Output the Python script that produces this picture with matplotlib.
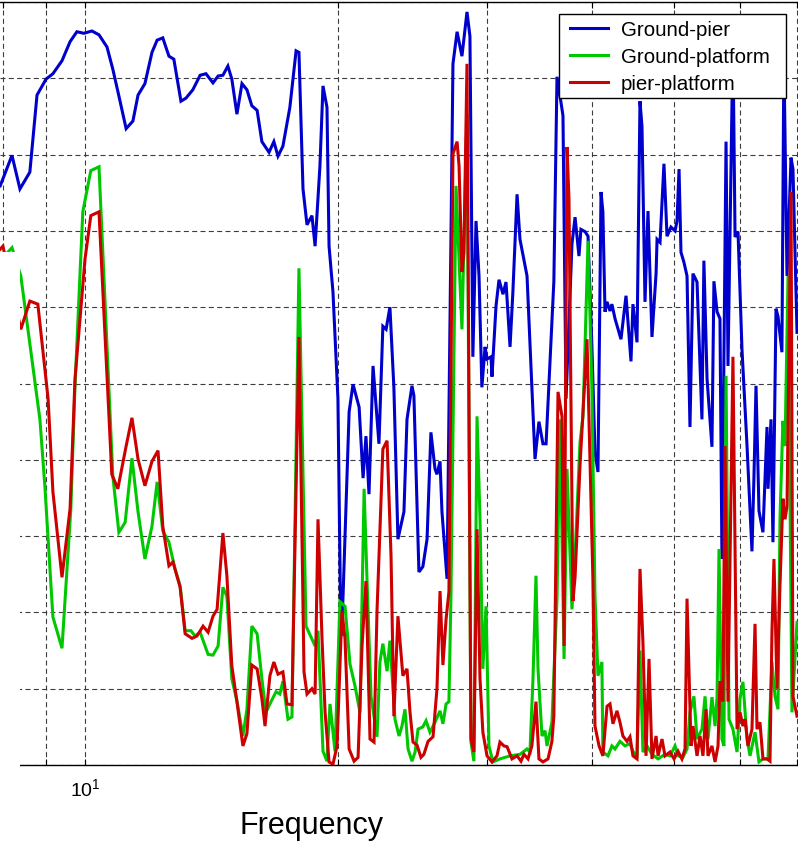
import matplotlib
matplotlib.use('Agg')
import matplotlib.pyplot as plt
from matplotlib.patches import Rectangle
from matplotlib.ticker import NullFormatter

plt.rcParams['font.family'] = ['Liberation Sans', 'DejaVu Sans']
plt.rcParams['mathtext.fontset'] = 'custom'
plt.rcParams['mathtext.rm'] = 'Liberation Sans'
plt.rcParams['mathtext.it'] = 'Liberation Sans:italic'
plt.rcParams['lines.scale_dashes'] = False

series_names = ['Ground-pier', 'Ground-platform', 'pier-platform']
series_colors = ['#0000CC', '#00C800', '#CC0000']

freq_gp = [7.93, 8.19, 8.37, 8.60, 8.77, 8.99, 9.16, 9.39, 9.60, 9.78, 9.97, 10.19, 10.39, 10.62,
           10.79, 10.97, 11.19, 11.40, 11.56, 11.78, 12.01, 12.18, 12.37, 12.58, 12.75, 13.00,
           13.18, 13.43, 13.70, 13.92, 14.19, 14.39, 14.58, 14.78, 14.94, 15.15, 15.36, 15.57,
           15.78, 16.01, 16.22, 16.54, 16.76, 16.95, 17.18, 17.51, 17.81, 17.95, 18.15, 18.35,
           18.60, 18.76, 19.01, 19.17, 19.38, 19.49, 19.70, 19.97, 20.13, 20.24, 20.59, 20.81,
           21.16, 21.39, 21.56, 21.74, 21.98, 22.34, 22.58, 22.78, 23.02, 23.27, 23.53, 23.92,
           24.12, 24.45, 24.58, 24.92, 25.19, 25.48, 25.75, 26.04, 26.18, 26.40, 26.54, 26.91,
           27.35, 27.66, 28.03, 28.42, 28.65, 28.88, 29.13, 29.37, 29.60, 29.86, 30.02, 30.35,
           30.43, 30.77, 31.02, 31.36, 31.62, 31.97, 32.22, 32.59, 32.85, 33.49, 34.23, 34.60,
           34.98, 35.28, 36.04, 36.35, 36.65, 36.95, 37.26, 37.87, 38.19, 38.60, 38.81, 39.25,
           39.57, 39.99, 40.33, 40.66, 41.00, 41.21, 41.45, 41.68, 42.02, 42.24, 42.60, 43.30,
           43.90, 44.50, 44.74, 45.24, 45.61, 45.86, 46.24, 46.62, 47.13, 47.66, 47.79, 48.18,
           48.70, 49.11, 49.64, 50.20, 50.47, 50.75, 51.02, 51.43, 51.87, 52.29, 52.72, 53.31,
           54.03, 54.32, 54.79, 55.53, 55.83, 56.31, 56.76, 57.07, 57.71, 58.02, 58.81, 59.15,
           59.63, 60.28, 61.12, 61.95, 62.28, 62.64, 63.15, 63.84, 64.55, 64.73, 65.26, 65.61,
           66.16, 66.52, 67.24, 67.60, 68.18, 68.93, 69.30, 70.07]
coh_gp = [0.759, 0.799, 0.755, 0.777, 0.878, 0.899, 0.906, 0.923, 0.948, 0.961, 0.959, 0.962, 0.957, 0.941,
          0.912, 0.877, 0.834, 0.844, 0.878, 0.893, 0.934, 0.950, 0.953, 0.929, 0.925, 0.870,
          0.874, 0.885, 0.904, 0.906, 0.894, 0.903, 0.904, 0.916, 0.899, 0.853, 0.893, 0.885,
          0.864, 0.858, 0.817, 0.803, 0.817, 0.798, 0.811, 0.862, 0.936, 0.934, 0.755, 0.708,
          0.720, 0.680, 0.785, 0.890, 0.862, 0.680, 0.620, 0.480, 0.169, 0.214, 0.463, 0.499,
          0.469, 0.376, 0.431, 0.355, 0.523, 0.421, 0.575, 0.571, 0.600, 0.495, 0.296, 0.332,
          0.453, 0.497, 0.484, 0.253, 0.260, 0.296, 0.436, 0.388, 0.381, 0.398, 0.332, 0.244,
          0.919, 0.961, 0.929, 0.987, 0.955, 0.535, 0.713, 0.641, 0.495, 0.548, 0.532, 0.535,
          0.509, 0.602, 0.636, 0.617, 0.633, 0.548, 0.620, 0.748, 0.689, 0.641, 0.401, 0.450,
          0.421, 0.421, 0.634, 0.902, 0.877, 0.851, 0.480, 0.683, 0.718, 0.667, 0.702, 0.699,
          0.693, 0.549, 0.410, 0.384, 0.751, 0.725, 0.594, 0.607, 0.595, 0.604, 0.585, 0.558,
          0.615, 0.529, 0.604, 0.554, 0.870, 0.837, 0.607, 0.726, 0.561, 0.644, 0.689, 0.685,
          0.788, 0.693, 0.705, 0.700, 0.713, 0.781, 0.672, 0.659, 0.641, 0.443, 0.644, 0.633,
          0.453, 0.661, 0.506, 0.417, 0.634, 0.594, 0.585, 0.270, 0.817, 0.523, 0.950, 0.692,
          0.699, 0.545, 0.418, 0.280, 0.375, 0.497, 0.333, 0.305, 0.443, 0.362, 0.453, 0.292,
          0.598, 0.588, 0.541, 0.930, 0.641, 0.796, 0.781, 0.567]

freq_gpl = [7.93, 8.19, 8.39, 8.84, 8.96, 9.16, 9.39, 9.62, 9.73, 9.94, 10.16, 10.39, 10.79, 10.97,
            11.16, 11.37, 11.56, 11.78, 12.01, 12.18, 12.37, 12.58, 12.79, 12.97, 13.15, 13.36,
            13.51, 13.70, 14.00, 14.19, 14.39, 14.58, 14.74, 14.94, 15.15, 15.40, 15.57, 15.78,
            16.01, 16.22, 16.40, 16.63, 16.86, 17.04, 17.18, 17.42, 17.61, 17.95, 18.30, 18.60,
            18.76, 18.91, 19.17, 19.38, 19.54, 19.81, 20.08, 20.36, 20.64, 20.92, 21.21, 21.45,
            21.62, 21.86, 22.22, 22.40, 22.58, 22.84, 23.02, 23.34, 23.60, 23.79, 23.99, 24.19,
            24.45, 24.66, 24.86, 25.19, 25.41, 25.68, 26.04, 26.40, 26.61, 26.84, 27.05, 27.20,
            27.58, 28.03, 28.42, 28.73, 28.96, 29.21, 29.45, 29.68, 29.94, 30.18, 30.51, 31.10,
            31.97, 32.85, 33.49, 33.76, 34.04, 34.32, 34.51, 34.89, 35.18, 35.37, 35.85, 36.35,
            36.65, 37.06, 37.36, 37.87, 38.19, 38.71, 39.03, 39.57, 39.99, 40.33, 40.66, 41.10,
            41.21, 41.79, 42.24, 42.60, 43.18, 43.78, 44.38, 44.74, 45.24, 45.61, 45.98, 46.50,
            47.13, 47.92, 48.84, 49.51, 50.20, 50.61, 51.29, 51.87, 52.29, 52.86, 53.31, 54.03,
            54.49, 54.93, 55.53, 56.00, 56.31, 56.61, 57.07, 57.38, 57.71, 58.18, 58.81, 59.47,
            59.96, 60.44, 61.12, 61.62, 62.47, 63.15, 63.84, 64.73, 65.43, 65.98, 66.52, 66.88,
            67.42, 67.81, 68.37, 69.11, 70.07]
coh_gpl = [0.661, 0.678, 0.641, 0.453, 0.366, 0.194, 0.153, 0.336, 0.497, 0.725, 0.779, 0.784, 0.379, 0.305,
           0.318, 0.402, 0.332, 0.270, 0.313, 0.371, 0.307, 0.292, 0.257, 0.235, 0.176, 0.176,
           0.169, 0.174, 0.145, 0.144, 0.156, 0.233, 0.221, 0.113, 0.084, 0.038, 0.073, 0.182,
           0.172, 0.113, 0.069, 0.083, 0.096, 0.093, 0.110, 0.060, 0.063, 0.651, 0.182, 0.165,
           0.156, 0.176, 0.018, 0.005, 0.080, 0.018, 0.214, 0.208, 0.132, 0.104, 0.069, 0.362,
           0.244, 0.090, 0.037, 0.135, 0.159, 0.123, 0.163, 0.060, 0.038, 0.051, 0.073, 0.021,
           0.005, 0.017, 0.047, 0.050, 0.058, 0.043, 0.056, 0.071, 0.054, 0.080, 0.083, 0.221,
           0.759, 0.571, 0.853, 0.030, 0.005, 0.457, 0.322, 0.126, 0.208, 0.025, 0.004, 0.008,
           0.012, 0.014, 0.021, 0.017, 0.113, 0.248, 0.126, 0.038, 0.045, 0.025, 0.056, 0.218,
           0.453, 0.139, 0.388, 0.204, 0.274, 0.423, 0.457, 0.687, 0.493, 0.221, 0.117, 0.135,
           0.017, 0.012, 0.025, 0.021, 0.031, 0.025, 0.028, 0.018, 0.010, 0.150, 0.017, 0.025,
           0.014, 0.008, 0.014, 0.012, 0.025, 0.012, 0.010, 0.021, 0.069, 0.090, 0.034, 0.047,
           0.090, 0.034, 0.089, 0.051, 0.089, 0.283, 0.034, 0.025, 0.510, 0.060, 0.047, 0.017,
           0.087, 0.109, 0.034, 0.012, 0.043, 0.004, 0.008, 0.008, 0.135, 0.090, 0.073, 0.322,
           0.451, 0.418, 0.641, 0.069, 0.187]

freq_ppl = [7.93, 7.99, 8.39, 8.60, 8.79, 9.04, 9.16, 9.39, 9.60, 9.73, 10.00, 10.16, 10.39, 10.76,
            10.94, 11.19, 11.37, 11.56, 11.78, 12.01, 12.21, 12.37, 12.58, 12.72, 12.97, 13.15,
            13.40, 13.58, 13.81, 14.00, 14.19, 14.35, 14.58, 14.74, 14.94, 15.15, 15.40, 15.57,
            15.78, 16.01, 16.22, 16.36, 16.58, 16.76, 16.95, 17.18, 17.37, 17.61, 17.95, 18.20,
            18.35, 18.60, 18.76, 18.91, 19.12, 19.28, 19.49, 19.70, 19.92, 20.19, 20.36, 20.59,
            20.87, 21.10, 21.33, 21.56, 21.80, 22.04, 22.22, 22.58, 22.84, 23.09, 23.27, 23.53,
            23.85, 24.12, 24.32, 24.52, 24.79, 25.06, 25.26, 25.55, 25.90, 26.18, 26.40, 26.61,
            26.84, 27.05, 27.35, 27.66, 27.81, 28.03, 28.18, 28.42, 28.73, 28.96, 29.21, 29.45,
            29.68, 30.02, 30.43, 30.85, 31.10, 31.44, 31.71, 32.14, 32.59, 32.94, 33.21, 33.58,
            33.94, 34.32, 34.60, 34.98, 35.47, 35.85, 36.04, 36.45, 36.85, 37.06, 37.36, 37.56,
            37.97, 38.19, 38.71, 39.46, 40.10, 40.33, 40.78, 41.21, 41.68, 42.02, 42.36, 42.83,
            43.18, 43.53, 44.02, 44.38, 44.74, 45.24, 45.61, 45.98, 46.37, 46.75, 47.13, 47.66,
            47.92, 48.44, 48.84, 49.51, 50.06, 50.61, 51.15, 51.59, 51.87, 52.44, 52.72, 53.31,
            53.75, 54.18, 54.64, 54.93, 55.53, 56.00, 56.46, 56.76, 57.22, 57.55, 58.02, 58.81,
            59.47, 59.96, 60.44, 60.79, 61.28, 61.95, 62.47, 62.81, 63.32, 63.84, 64.55, 65.08,
            65.43, 65.79, 66.34, 66.88, 67.42, 67.81, 68.18, 68.93, 69.30, 70.07]
coh_ppl = [0.676, 0.680, 0.571, 0.608, 0.604, 0.480, 0.358, 0.246, 0.336, 0.506, 0.663, 0.720, 0.725, 0.381,
           0.362, 0.418, 0.455, 0.401, 0.366, 0.398, 0.412, 0.313, 0.261, 0.266, 0.233, 0.172,
           0.166, 0.169, 0.182, 0.174, 0.195, 0.204, 0.304, 0.248, 0.130, 0.083, 0.025, 0.041,
           0.131, 0.126, 0.087, 0.051, 0.117, 0.135, 0.119, 0.122, 0.080, 0.079, 0.561, 0.122,
           0.093, 0.100, 0.093, 0.322, 0.165, 0.069, 0.004, 0.001, 0.025, 0.202, 0.165, 0.021,
           0.005, 0.010, 0.156, 0.241, 0.034, 0.030, 0.201, 0.414, 0.425, 0.274, 0.064, 0.195,
           0.117, 0.126, 0.069, 0.030, 0.026, 0.010, 0.014, 0.031, 0.037, 0.100, 0.228, 0.131,
           0.191, 0.227, 0.801, 0.817, 0.785, 0.646, 0.672, 0.919, 0.034, 0.017, 0.309, 0.113,
           0.043, 0.012, 0.004, 0.012, 0.030, 0.025, 0.024, 0.008, 0.012, 0.005, 0.014, 0.008,
           0.025, 0.083, 0.008, 0.004, 0.008, 0.031, 0.064, 0.489, 0.457, 0.156, 0.810, 0.742,
           0.215, 0.246, 0.392, 0.558, 0.244, 0.051, 0.025, 0.012, 0.077, 0.080, 0.054, 0.071,
           0.056, 0.038, 0.031, 0.037, 0.012, 0.008, 0.257, 0.161, 0.012, 0.139, 0.008, 0.038,
           0.012, 0.034, 0.012, 0.017, 0.008, 0.018, 0.008, 0.021, 0.218, 0.025, 0.051, 0.012,
           0.038, 0.012, 0.073, 0.012, 0.025, 0.004, 0.025, 0.110, 0.083, 0.418, 0.083, 0.535,
           0.047, 0.069, 0.051, 0.060, 0.025, 0.047, 0.185, 0.047, 0.056, 0.008, 0.008, 0.005,
           0.174, 0.270, 0.100, 0.235, 0.349, 0.322, 0.339, 0.751, 0.090, 0.064]

x_major_ticks = [10]
x_major_labels = [r'$10^{1}$']
x_minor_ticks = [8, 9, 20, 30, 40, 50, 60, 70]
y_ticks = [0.1 * i for i in range(11)]
x_limits = (7.926, 70.26)
y_limits = (0.0, 1.0)

W, H = 798, 845
fig = plt.figure(figsize=(W / 100, H / 100), dpi=100)
ax = fig.add_axes([0.0, (H - 766) / H, 1.0, 763 / H])

ax.set_xscale('log')
ax.set_xlim(*x_limits)
ax.set_ylim(*y_limits)

handles = []
for fr, co, name, col in zip([freq_gp, freq_gpl, freq_ppl], [coh_gp, coh_gpl, coh_ppl],
                             series_names, series_colors):
    h, = ax.plot(fr, co, color=col, lw=2.2, label=name, solid_joinstyle='miter', zorder=3)
    handles.append(h)

ax.set_xticks(x_major_ticks)
ax.set_xticklabels(x_major_labels)
ax.set_xticks(x_minor_ticks, minor=True)
ax.xaxis.set_minor_formatter(NullFormatter())
ax.set_yticks(y_ticks)
ax.set_yticklabels([])

grid_kw = dict(color='#3c3c3c', linewidth=0.8, linestyle=(0, (3.6, 2.4)))
ax.grid(True, which='major', axis='both', **grid_kw)
ax.grid(True, which='minor', axis='x', **grid_kw)
ax.set_axisbelow(True)

ax.tick_params(axis='x', which='both', direction='in', top=True, bottom=True,
               length=4, width=0.8, labelsize=14, pad=9)
ax.tick_params(axis='y', which='both', length=0)

for side in ['left', 'right']:
    ax.spines[side].set_visible(False)
for side in ['top', 'bottom']:
    ax.spines[side].set_linewidth(1.0)
    ax.spines[side].set_color('black')

# legend frame (drawn as a box) and legend entries on top of it
fig.add_artist(Rectangle((559 / W, 1 - 99 / H), (786 - 559) / W, (99 - 15) / H,
                         transform=fig.transFigure, facecolor='white',
                         edgecolor='black', linewidth=1.0, zorder=5))
fs = 14.8
fs_px = fs * 100 / 72
pad = 0.535
leg = fig.legend(handles=handles, labels=series_names, loc='upper left',
                 bbox_to_anchor=(559 / W, 1 - (31 - pad * fs_px - 9.6) / H),
                 bbox_transform=fig.transFigure, fontsize=fs, frameon=False,
                 borderpad=pad, handlelength=1.85, handletextpad=0.62,
                 labelspacing=0.38, borderaxespad=0.0)
leg.set_zorder(6)

fig.text(312 / W, 1 - 826 / H, 'Frequency', ha='center', va='center', fontsize=22)

fig.add_artist(Rectangle((0, (H - 772) / H), 20 / W, (772 - 253) / H,
                         transform=fig.transFigure, facecolor='white',
                         edgecolor='none', zorder=10))

fig.savefig('out.png', dpi=100)
